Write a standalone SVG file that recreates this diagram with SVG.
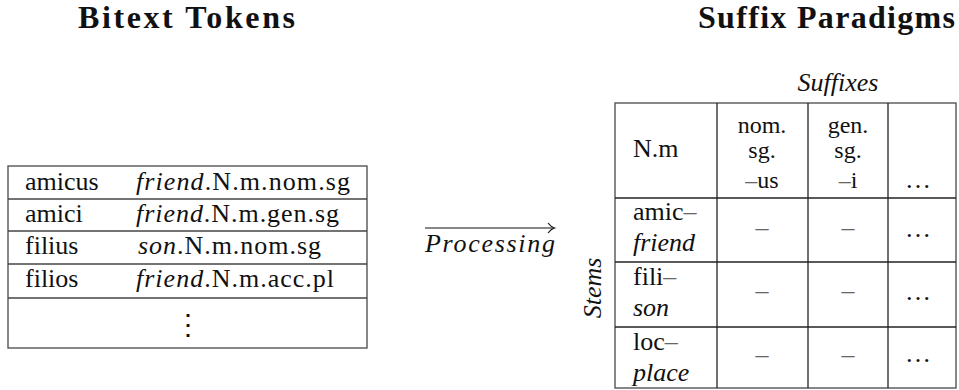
<svg xmlns="http://www.w3.org/2000/svg" width="959" height="390" viewBox="0 0 959 390" font-family="'Liberation Serif', 'DejaVu Serif', serif">
<defs>
<style>
text{font-family:'Liberation Serif','DejaVu Serif',serif;font-size:26px;fill:#111}
.t{font-weight:bold;font-size:32px}
.i{font-style:italic}
.c{text-anchor:middle}
.h{font-size:24px}
.d{fill:#666}
.frame{fill:none;stroke:#555;stroke-width:1.4}
.rule{stroke:#444;stroke-width:1.3}
.rule2{stroke:#222;stroke-width:1.3}
.arrow{stroke:#111;stroke-width:1.2;fill:none}
</style>
</defs>
<rect width="959" height="390" fill="#fff"/>

<g id="title-bitext">
<text class="t" x="78" y="28" textLength="217" lengthAdjust="spacing">Bitext Tokens</text>
</g>
<g id="title-suffix">
<text class="t" x="698" y="28" textLength="257" lengthAdjust="spacing">Suffix Paradigms</text>
</g>

<g id="bitext-table">
<rect class="frame" x="8" y="166" width="359" height="182"/>
<line class="rule" x1="8" y1="199" x2="367" y2="199"/>
<line class="rule" x1="8" y1="231" x2="367" y2="231"/>
<line class="rule" x1="8" y1="264" x2="367" y2="264"/>
<line class="rule" x1="8" y1="298" x2="367" y2="298"/>
<text x="25" y="190">amicus</text>
<text x="136" y="190" textLength="214" lengthAdjust="spacing"><tspan class="i">friend</tspan>.N.m.nom.sg</text>
<text x="25" y="222">amici</text>
<text x="136" y="222" textLength="203" lengthAdjust="spacing"><tspan class="i">friend</tspan>.N.m.gen.sg</text>
<text x="25" y="254">filius</text>
<text x="138" y="254" textLength="183" lengthAdjust="spacing"><tspan class="i">son</tspan>.N.m.nom.sg</text>
<text x="25" y="287">filios</text>
<text x="136" y="287" textLength="198" lengthAdjust="spacing"><tspan class="i">friend</tspan>.N.m.acc.pl</text>
<text class="c" x="188" y="334" style="font-family:'DejaVu Serif',serif;font-size:28px">⋮</text>
</g>

<g id="connectors">
<line class="arrow" x1="425" y1="228" x2="553" y2="228"/>
<path class="arrow" d="M548,223 Q551,227 554.5,228 Q551,229 548,233"/>
<text class="i" x="425" y="252" textLength="130" lengthAdjust="spacing">Processing</text>
</g>

<g id="paradigm-table">
<text class="i c" x="838" y="91">Suffixes</text>
<text class="i c" transform="translate(601,288) rotate(-90)">Stems</text>
<rect class="frame" x="615" y="103" width="341" height="285"/>
<line class="rule2" x1="717" y1="103" x2="717" y2="388"/>
<line class="rule2" x1="808" y1="103" x2="808" y2="388"/>
<line class="rule2" x1="888" y1="103" x2="888" y2="388"/>
<line class="rule2" x1="615" y1="198" x2="956" y2="198"/>
<line class="rule2" x1="615" y1="262" x2="956" y2="262"/>
<line class="rule2" x1="615" y1="327" x2="956" y2="327"/>

<text x="633" y="157">N.m</text>
<text class="c h" x="762" y="133">nom.</text>
<text class="c h" x="762" y="158">sg.</text>
<text class="c h" x="762" y="188"><tspan class="d">–</tspan>us</text>
<text class="c h" x="848" y="133">gen.</text>
<text class="c h" x="848" y="158">sg.</text>
<text class="c h" x="848" y="188"><tspan class="d">–</tspan>i</text>
<text class="c" x="918" y="188">…</text>

<text x="633" y="220">amic<tspan class="d">–</tspan></text>
<text class="i" x="633" y="251">friend</text>
<text class="c d" x="762" y="236">–</text>
<text class="c d" x="848" y="236">–</text>
<text class="c" x="918" y="237">…</text>

<text x="633" y="285">fili<tspan class="d">–</tspan></text>
<text class="i" x="633" y="316">son</text>
<text class="c d" x="762" y="299">–</text>
<text class="c d" x="848" y="299">–</text>
<text class="c" x="918" y="300">…</text>

<text x="633" y="350">loc<tspan class="d">–</tspan></text>
<text class="i" x="633" y="381">place</text>
<text class="c d" x="762" y="363">–</text>
<text class="c d" x="848" y="363">–</text>
<text class="c" x="918" y="362">…</text>
</g>
</svg>
